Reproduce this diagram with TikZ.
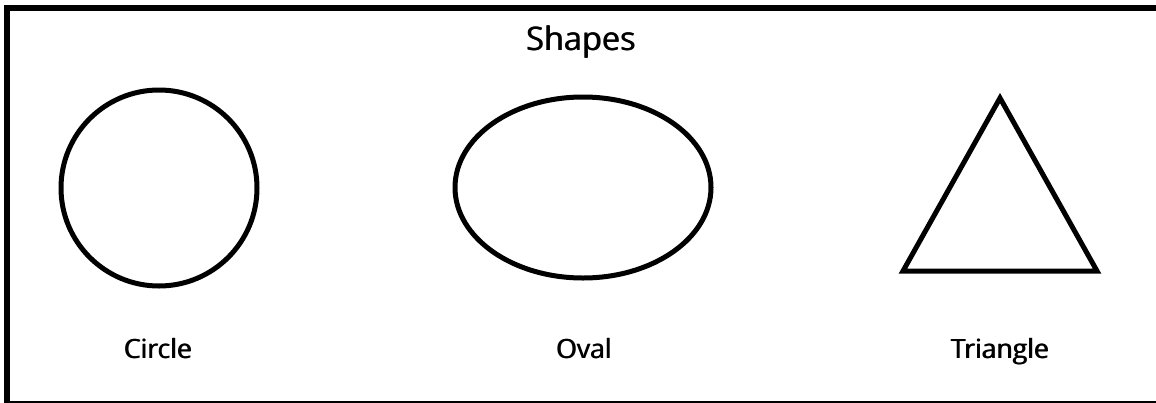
\documentclass[tikz,border=0pt]{standalone}
\usepackage{fontspec}
\setmainfont{Open Sans}
\newcommand\heavytext[1]{\rlap{#1}\kern0.9pt\relax#1}
\usetikzlibrary{shapes.geometric}
\begin{document}
\begin{tikzpicture}[x=1pt,y=-1pt,
  shapeline/.style={draw=black,line width=5pt},
  label/.style={anchor=base,font=\fontsize{26.5}{30}\selectfont},
  title/.style={anchor=base,font=\fontsize{32.5}{36}\selectfont}]
\useasboundingbox (0,0) rectangle (1156,402);
\node[draw=black,line width=6pt,minimum width=1170pt,minimum height=396.5pt,inner sep=0pt,anchor=north west] (frame) at (4,4.5) {};
\node[title] (title) at (581,50) {\heavytext{Shapes}};
\node[shapeline,circle,minimum size=196pt,inner sep=0pt] (circ) at (159,188) {};
\node[shapeline,ellipse,minimum width=256pt,minimum height=181pt,inner sep=0pt] (oval) at (583,187.5) {};
\coordinate (ta) at (1000,98);
\coordinate (tb) at (903,271);
\coordinate (tc) at (1097,271);
\draw[shapeline,line join=miter] (ta) -- (tb) -- (tc) -- cycle;
\node[label] (lc) at (158,358) {\heavytext{Circle}};
\node[label] (lo) at (584,358) {\heavytext{Oval}};
\node[label] (lt) at (1000,358) {\heavytext{Triangle}};
\end{tikzpicture}
\end{document}
